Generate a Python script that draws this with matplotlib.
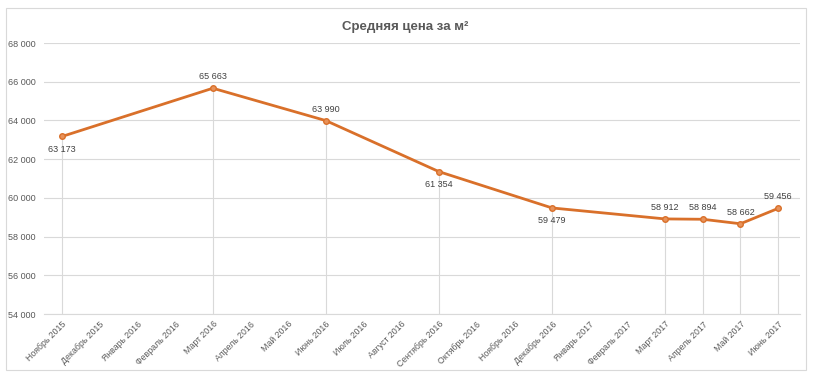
import matplotlib
matplotlib.use('Agg')
import matplotlib.pyplot as plt
from matplotlib.patches import Rectangle

plt.rcParams['font.family'] = ['Liberation Sans', 'DejaVu Sans']

# months on the category axis
months = ['Ноябрь 2015', 'Декабрь 2015', 'Январь 2016', 'Февраль 2016', 'Март 2016',
          'Апрель 2016', 'Май 2016', 'Июнь 2016', 'Июль 2016', 'Август 2016',
          'Сентябрь 2016', 'Октябрь 2016', 'Ноябрь 2016', 'Декабрь 2016', 'Январь 2017',
          'Февраль 2017', 'Март 2017', 'Апрель 2017', 'Май 2017', 'Июнь 2017']

# observations (index into months)
pt_idx = [0, 4, 7, 10, 13, 16, 17, 18, 19]
prices = [63173, 65663, 63990, 61354, 59479, 58912, 58894, 58662, 59456]
label_above = [False, True, True, False, False, True, True, True, True]

yticks = [54000, 56000, 58000, 60000, 62000, 64000, 66000, 68000]

line_col = '#D9702A'
grey_txt = '#595959'
grid_col = '#D9D9D9'

fig = plt.figure(figsize=(8.15, 3.8), dpi=100)
ax = fig.add_axes([44/815, 1-314/380, (800-44)/815, (314-43)/380])

# chart border
fig.patches.append(Rectangle((6/815, 10/380), (806-6)/815, (372-10)/380,
                             transform=fig.transFigure, fill=False,
                             edgecolor='#D9D9D9', linewidth=0.8))

ax.set_ylim(54000, 68000)
ax.set_xlim(-0.48, 19.58)
ax.set_yticks(yticks)
ax.set_yticklabels(['{:,}'.format(v).replace(',', ' ') for v in yticks])
ax.grid(axis='y', color=grid_col, linewidth=0.8)
ax.set_axisbelow(True)

# drop lines
for i, v in zip(pt_idx, prices):
    ax.plot([i, i], [54000, v], color=grid_col, linewidth=0.8, zorder=1)

ax.plot(pt_idx, prices, color=line_col, linewidth=2.0, marker='o', markersize=4,
        markerfacecolor='#E8925A', markeredgecolor=line_col, zorder=3)

for i, v, up in zip(pt_idx, prices, label_above):
    txt = '{:,}'.format(v).replace(',', ' ')
    ax.annotate(txt, (i, v), xytext=(0, 5 if up else -6), textcoords='offset points',
                ha='center', va='bottom' if up else 'top', fontsize=6.5, color='#404040')

ax.set_xticks(range(len(months)))
ax.set_xticklabels(months, rotation=45, ha='right', rotation_mode='anchor',
                   fontsize=6.3, color=grey_txt)
ax.tick_params(axis='x', length=0, pad=4)
for lab in ax.get_xticklabels():
    lab.set_x(lab.get_position()[0])
ax.tick_params(axis='y', length=0, labelsize=6.5, labelcolor=grey_txt, pad=6)

for s in ['top', 'left', 'right']:
    ax.spines[s].set_visible(False)
ax.spines['bottom'].set_color(grid_col)
ax.spines['bottom'].set_linewidth(0.8)

fig.text(405/815, 1-27/380, 'Средняя цена за м²', ha='center', va='center',
         fontsize=9.5, fontweight='bold', color=grey_txt)

fig.savefig('out.png', dpi=100)
